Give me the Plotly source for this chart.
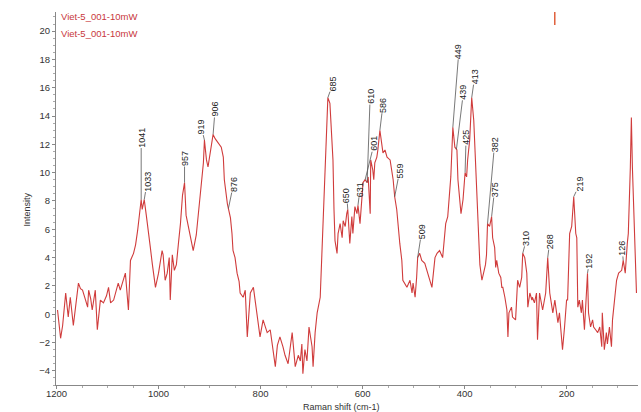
import numpy as np
import plotly.graph_objects as go

# Raman shift (cm-1) and intensity
shift = [1198,1192,1188,1182,1177,1173,1167,1161,1157,1153,
         1149,1143,1139,1137,1133,1130,1124,1120,1114,1108,
         1102,1098,1094,1088,1083,1079,1075,1071,1065,1059,
         1055,1049,1045,1041,1038,1034,1032,1028,1024,1020,
         1016,1012,1006,1000,996,993,991,987,983,979,
         977,973,969,965,961,957,953,949,946,942,
         938,932,926,922,918,914,912,910,906,903,
         897,893,889,883,877,873,871,865,859,856,
         854,850,846,842,840,834,830,826,822,820,
         814,811,807,801,795,791,787,781,777,771,
         767,762,756,752,746,742,738,732,726,722,
         719,717,713,709,705,699,697,693,689,683,
         679,674,670,668,664,658,656,654,650,648,
         644,640,638,634,631,629,625,621,619,615,
         611,609,605,601,599,595,591,589,585,584,
         580,578,576,572,570,566,562,560,556,552,
         546,540,537,533,527,523,521,513,507,503,
         501,497,494,492,488,484,478,472,464,458,
         454,449,443,437,433,427,423,419,415,413,
         411,407,403,399,396,394,390,386,382,378,
         374,370,366,362,359,357,355,351,347,345,
         341,339,337,333,329,327,325,321,317,315,
         313,308,306,300,298,296,292,288,286,282,
         278,276,272,268,267,263,259,257,253,249,
         247,241,237,233,229,227,223,219,217,214,
         210,208,204,200,198,194,190,188,186,182,
         180,178,175,171,169,165,161,159,157,153,
         149,147,143,139,135,131,130,126,122,120,
         116,112,110,106,102,98,92,89,85,81,
         79,75,73,71,67,63]

intensity = [0.3,-1.7,-0.8,1.5,-0.2,1.2,-0.8,1.3,2.2,1.8,
             1.7,1.0,0.5,1.7,1.1,0.3,1.7,-1.1,1.0,0.8,
             1.3,1.9,0.8,1.0,1.6,2.2,1.7,2.2,2.9,0.3,
             3.8,4.3,4.9,5.9,7.0,8.1,7.4,8.1,7.0,5.6,
             4.7,3.5,1.9,2.9,3.8,4.5,4.2,2.4,2.9,4.0,
             1.0,4.2,3.1,3.5,5.0,6.4,8.4,9.3,7.0,6.3,
             5.4,4.5,5.6,7.1,8.8,9.8,10.7,12.3,10.9,10.4,
             11.8,12.7,12.4,12.1,11.8,11.1,9.5,7.8,6.8,5.7,
             4.5,4.0,2.9,2.3,1.5,1.2,1.7,-1.6,1.0,1.5,
             1.9,1.0,0.1,-1.6,-0.4,-0.8,-1.3,-1.1,-2.3,-3.7,
             -2.2,-1.6,-2.3,-2.9,-3.5,-2.2,-1.3,-3.7,-2.9,-3.3,
             -2.1,-4.2,-2.5,-3.3,-0.9,-2.3,-3.7,-1.3,0.1,1.2,
             4.7,9.5,13.0,15.3,14.9,10.9,7.4,5.2,4.3,5.7,
             6.4,5.4,6.6,6.2,7.1,7.4,5.0,6.9,5.7,7.6,
             7.1,7.7,6.4,8.6,9.3,9.5,9.3,9.7,7.1,10.9,
             10.2,9.5,10.7,11.1,11.6,13.0,12.1,11.4,11.6,11.1,
             10.9,9.5,8.3,7.4,5.0,3.8,2.4,1.9,2.4,1.5,
             2.2,1.2,2.6,4.0,4.3,3.8,3.6,2.9,1.9,4.0,
             4.3,4.5,4.0,6.4,6.9,9.7,13.2,11.8,11.6,9.5,
             8.8,7.1,8.1,10.0,9.7,10.9,12.3,15.3,13.7,10.5,
             7.1,3.5,2.4,3.0,3.5,4.2,6.4,6.2,6.9,5.4,
             4.7,3.3,3.8,2.9,2.6,1.9,1.9,1.2,0.3,-1.6,
             0.1,0.5,-0.2,-0.4,1.0,2.4,1.9,2.6,4.3,4.0,
             2.9,0.5,1.5,1.0,1.2,0.8,1.5,-1.8,1.5,0.5,
             0.3,1.5,4.0,1.5,0.5,0.1,1.0,-0.2,-0.6,0.1,
             -1.3,-2.5,-0.9,1.0,1.0,5.7,6.2,7.4,8.3,5.7,
             5.4,0.5,1.0,0.1,1.0,-1.1,1.2,2.9,0.1,-0.9,
             -0.4,-0.9,-1.1,-1.3,-0.9,-2.3,0.1,-2.5,-1.3,-2.1,
             -0.9,-2.3,-0.4,1.0,2.4,2.9,3.1,3.8,2.9,5.0,
             5.7,10.4,13.9,10.4,5.4,1.5]

# peak labels and where they sit on the drawn curve
peak_labels = ["1041","1033","957","919","906","876","685","650","631","610",
               "601","586","559","509","449","439","425","413","382","375",
               "310","268","219","192","126"]
peak_pos = [1034,1028,949,910,893,863,668,629,609,591,
            595,566,537,492,423,416,399,386,355,347,
            286,237,186,159,89]
# label offsets (pixels) from the peak point
label_dx = [0,3,0,-3,2,5,5,-1,2,3,
            9,3,5,4,6,7,1,3,7,3,
            4,2,6,2,-1]
label_dy = [-62,-18,-24,-13,-25,-24,-14,-14,-16,-86,
            -36,-25,-26,-26,-76,-57,-35,-21,-79,-27,
            -15,-16,-13,-12,-12]

series_name = "Viet-5_001-10mW"
x_title = "Raman shift (cm-1)"
y_title = "Intensity"

sx = np.array(shift, dtype=float)
sy = np.array(intensity, dtype=float)
peak_y = np.interp(peak_pos, sx[::-1], sy[::-1])

fig = go.Figure()
fig.add_trace(go.Scatter(x=shift, y=intensity, mode="lines",
                         line=dict(color="#d03c3c", width=1.1),
                         name=series_name, showlegend=False, hoverinfo="skip"))

FONT = "Liberation Sans, Arial, sans-serif"
for lab, px, py, dx, dy in zip(peak_labels, peak_pos, peak_y, label_dx, label_dy):
    fig.add_annotation(x=px, y=py, text=lab, textangle=-90,
                       showarrow=True, arrowhead=0, arrowwidth=0.8,
                       arrowcolor="#555555", ax=dx, ay=dy, standoff=0,
                       font=dict(family=FONT, size=9, color="#222222"),
                       borderpad=0)

for yy in (0.987, 0.943):
    fig.add_annotation(xref="paper", yref="paper", x=0.005, y=yy,
                       text=series_name, showarrow=False, xanchor="left",
                       yanchor="middle",
                       font=dict(family=FONT, size=9.5, color="#c8383c"))

# axis titles
fig.add_annotation(xref="paper", yref="paper", x=0.49, y=-0.058,
                   text=x_title, showarrow=False, xanchor="center", yanchor="middle",
                   font=dict(family=FONT, size=9, color="#333333"))
fig.add_annotation(xref="paper", yref="paper", x=-0.05, y=0.47,
                   text=y_title, showarrow=False, textangle=-90,
                   xanchor="center", yanchor="middle",
                   font=dict(family=FONT, size=9, color="#333333"))

fig.add_shape(type="line", xref="paper", yref="paper",
              x0=0.857, x1=0.857, y0=0.965, y1=1.0,
              line=dict(color="#e0603c", width=1.5))

fig.update_layout(
    width=641, height=412,
    margin=dict(l=56, r=3, t=12, b=27),
    paper_bgcolor="white", plot_bgcolor="white",
    font=dict(family=FONT, size=10, color="#333333"),
)
fig.update_xaxes(range=[1201, 60], showgrid=False, zeroline=False, automargin=False,
                 showline=True, linecolor="#888888", linewidth=1,
                 ticks="outside", ticklen=3, tickcolor="#888888",
                 ticklabelstandoff=-3,
                 tickvals=[1200, 1000, 800, 600, 400, 200],
                 minor=dict(ticks="outside", ticklen=2, dtick=50, tickcolor="#aaaaaa"),
                 tickfont=dict(size=9.5, color="#333333"))
fig.update_yaxes(range=[-5.0, 21.35], showgrid=False, zeroline=False, automargin=False,
                 showline=True, linecolor="#888888", linewidth=1,
                 ticks="outside", ticklen=3, tickcolor="#888888",
                 tickvals=[-4, -2, 0, 2, 4, 6, 8, 10, 12, 14, 16, 18, 20],
                 minor=dict(ticks="outside", ticklen=2, dtick=0.5, tickcolor="#aaaaaa"),
                 tickfont=dict(size=9.5, color="#333333"))

fig.write_html("out.html", config={"displayModeBar": False},
               post_script="document.body.style.margin='0px';document.body.style.overflow='hidden';")
